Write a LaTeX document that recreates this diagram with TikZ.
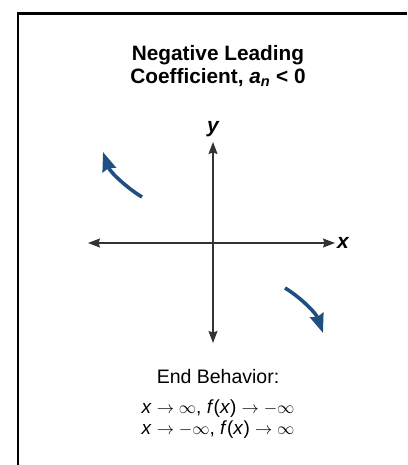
\documentclass[tikz,border=0pt]{standalone}
\usepackage{fontspec}
\setmainfont{Liberation Sans}
\usepackage{tikz}
\usepackage{xcolor}
\usetikzlibrary{arrows.meta,positioning}

\definecolor{endblue}{RGB}{31,78,128}

\begin{document}
\begin{tikzpicture}[x=1pt,y=-1pt,
frame/.style={line width=2.6pt, black},
axis/.style={{Stealth[length=12pt,width=9pt,inset=1.5pt]}-{Stealth[length=12pt,width=9pt,inset=1.5pt]}, line width=1.4pt, black!80},
trend/.style={-{Stealth[length=19pt,width=14pt,inset=2pt]}, line width=3.6pt, endblue},
label/.style={font=\fontsize{21}{22}\selectfont\bfseries\itshape, inner sep=0pt},
caption/.style={align=center, font=\fontsize{20}{23}\selectfont, inner sep=0pt}
]
\useasboundingbox (0,0) rectangle (407,465);
\draw[frame] (407,13.7) -- (18,13.7) -- (18,465);

% title
\node[caption, font=\fontsize{20.8}{23}\selectfont\bfseries] (title) at (218,66)
  {Negative Leading\\Coefficient, \textit{a}\textsubscript{\textit{n}} < 0};

% axes
\coordinate (ytop) at (213,142);
\coordinate (ybot) at (213,343);
\coordinate (xleft) at (88,243);
\coordinate (xright) at (335,243);
\draw[axis] (ybot) -- (ytop);
\draw[axis] (xleft) -- (xright);
\node[label, above=5pt of ytop] (ylab) {y};
\node[label, right=2pt of xright] (xlab) {x};

% end behaviour arrows
\coordinate (ulstart) at (142,197);
\coordinate (ultip) at (103,152);
\coordinate (lrstart) at (285,288);
\coordinate (lrtip) at (323,333);
\draw[trend] (ulstart) .. controls (127,188) and (110,172) .. (ultip);
\draw[trend] (lrstart) .. controls (300,297) and (316,313) .. (lrtip);

% end behaviour text
\node[caption, font=\fontsize{19.5}{21}\selectfont] (endtxt) at (218,377) {End Behavior:};
\node[caption, font=\fontsize{19}{21}\selectfont, below=15pt of endtxt] (rules)
  {\textit{x} $\to\infty$, \textit{f}(\textit{x}) $\to -\infty$\\\textit{x} $\to -\infty$, \textit{f}(\textit{x}) $\to\infty$};
\end{tikzpicture}
\end{document}
